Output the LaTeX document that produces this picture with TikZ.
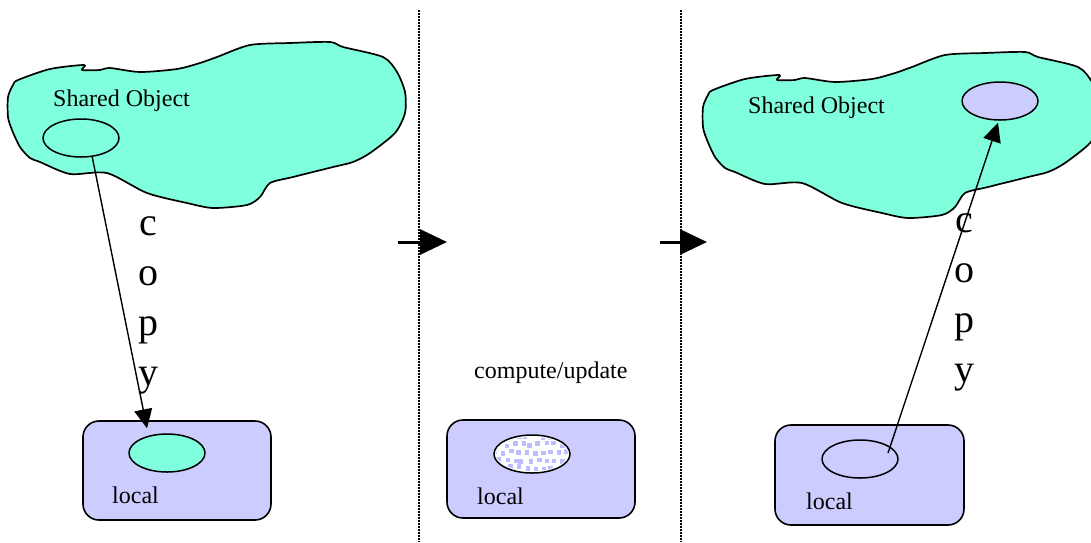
\documentclass[tikz,border=0pt]{standalone}
\usepackage{fontspec}
\setmainfont{Liberation Serif}
\usetikzlibrary{arrows.meta,shapes.geometric,calc}

\definecolor{aqua}{RGB}{128,255,221}
\definecolor{lav}{RGB}{204,204,255}
\definecolor{dotblue}{RGB}{190,190,255}

\tikzset{
  blob/.pic={
    \draw[fill=aqua,line width=1.7pt,line join=round] plot[smooth cycle,tension=0.45] coordinates {
      (8,97) (13,85) (18,80) (50,69) (84,65) (82,70) (100,70) (110,68) (140,72)
      (177,69) (200,63) (217,57) (250,45) (290,43) (330,42) (343,47) (383,57)
      (397,72) (405,92) (405,113) (395,133) (370,153) (353,162) (333,167)
      (293,177) (270,183) (260,197) (247,205) (213,208) (187,203) (147,193)
      (107,173) (70,174) (40,162) (30,158) (20,147) (12,130) (8,117)};
  },
  localbox/.style={draw,fill=lav,line width=1.6pt,rounded corners=16pt,inner sep=0pt},
  part/.style={draw,ellipse,line width=1.5pt,minimum width=76pt,minimum height=38pt,inner sep=0pt},
  small/.style={font=\fontsize{24}{28}\selectfont,inner sep=0pt,anchor=base west},
  copyletter/.style={font=\fontsize{40}{50}\selectfont,anchor=base,inner sep=0pt},
  copyarrow/.style={line width=1.4pt,-{Triangle[length=19pt,width=18pt]}},
  steparrow/.style={line width=3pt,-{Triangle[length=27pt,width=25pt]}},
  separator/.style={line width=1.2pt,dash pattern=on 1.5pt off 1.5pt}
}

\begin{document}
\begin{tikzpicture}[x=1pt,y=-1pt]
  \useasboundingbox (0,0) rectangle (1091,542);
  \clip (0,0) rectangle (1091,542);

  % separators between the three stages
  \draw[separator] (419,10) -- (419,542);
  \draw[separator] (681,10) -- (681,542);

  % stage 1: copy out of the shared object
  \pic at (0,0) {blob};
  \node[small] (sharedL) at (53,106) {Shared Object};
  \node[part] (srcL) at (81,138) {};
  \node[localbox,minimum width=188pt,minimum height=99pt] (boxL) at (177,470.5) {};
  \node[part,fill=aqua] (tgtL) at (167,453) {};
  \node[small] (localL) at (112,503) {local};
  \foreach \ch [count=\i] in {c,o,p,y}
    \node[copyletter] (cpyL\i) at (148,185+50*\i) {\ch};
  \draw[copyarrow] ([xshift=11pt,yshift=2pt]srcL.south) -- ([xshift=-20pt,yshift=5pt]tgtL.north);

  % stage 2: work on the local copy
  \node[small] (work) at (474,378) {compute/update};
  \node[localbox,minimum width=188pt,minimum height=98pt] (boxM) at (541,469) {};
  \node[part,fill=white] (mid) at (532,454) {};
  \begin{scope}
    \clip (mid.center) ellipse (36 and 17);
    \pgfmathsetseed{11}
    \foreach \i in {0,...,9}
      \foreach \j in {0,...,4}{
        \pgfmathsetmacro\dx{-40+8*\i+4*mod(\j,2)+2*rand}
        \pgfmathsetmacro\dy{-20+8*\j+2*rand}
        \fill[dotblue] ($(mid.center)+(\dx,\dy)$) rectangle +(4.5,4.5);
      }
  \end{scope}
  \node[small] (localM) at (477,504) {local};

  % stage 3: copy back into the shared object
  \pic at (695,10) {blob};
  \node[small] (sharedR) at (748,113) {Shared Object};
  \node[part,fill=lav] (dstR) at (1000,101) {};
  \node[localbox,minimum width=189pt,minimum height=100pt] (boxR) at (869.5,475) {};
  \node[part] (tgtR) at (860,459) {};
  \node[small] (localR) at (806,509) {local};
  \foreach \ch [count=\i] in {c,o,p,y}
    \node[copyletter] (cpyR\i) at (964,182+50*\i) {\ch};
  \draw[copyarrow] ([xshift=28pt,yshift=6pt]tgtR.center) -- ([xshift=-2pt,yshift=-2pt]dstR.south);

  % step arrows on the separators
  \coordinate (go1) at (398,242);
  \coordinate (to1) at (447,242);
  \coordinate (go2) at (660,242);
  \coordinate (to2) at (707,242);
  \draw[steparrow] (go1) -- (to1);
  \draw[steparrow] (go2) -- (to2);
\end{tikzpicture}
\end{document}
